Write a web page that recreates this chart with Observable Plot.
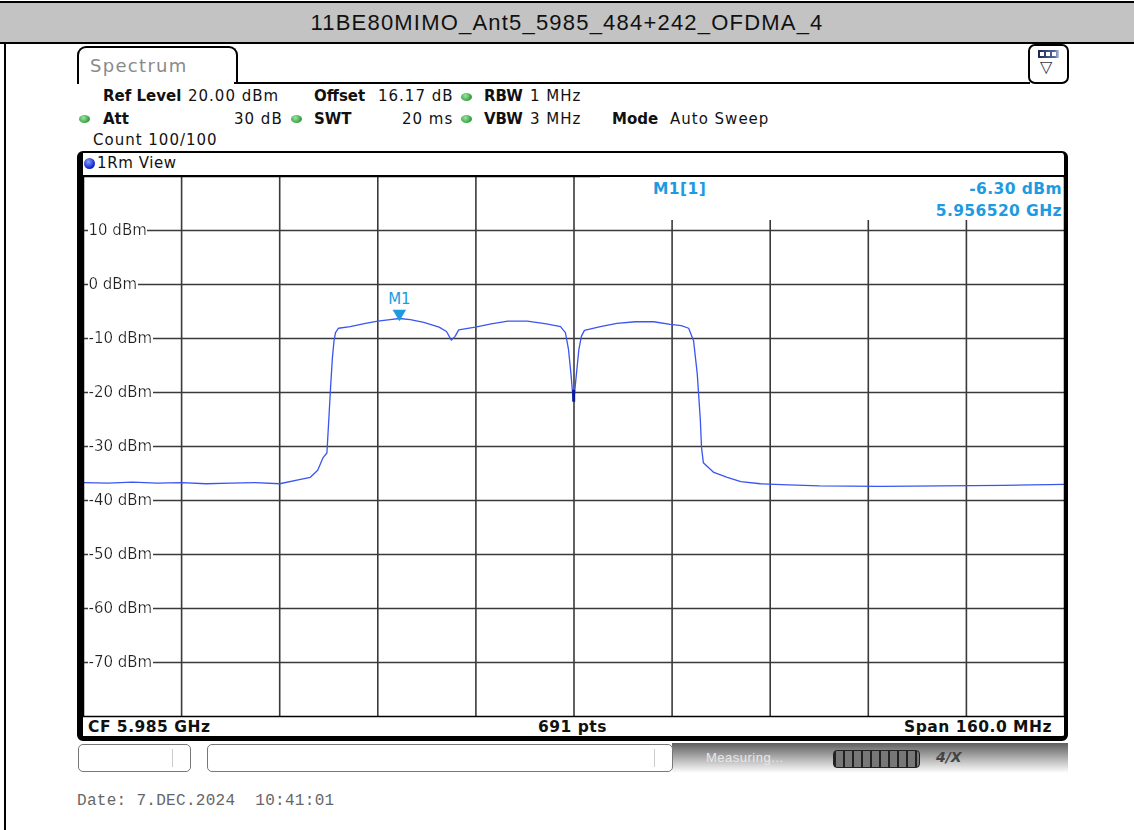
<!DOCTYPE html>
<html><head><meta charset="utf-8">
<script src="https://cdn.jsdelivr.net/npm/d3@7"></script>
<script src="https://cdn.jsdelivr.net/npm/@observablehq/plot@0.6"></script>
<style>
body{margin:0;width:1134px;height:830px;position:relative;background:#fff;overflow:hidden;font-family:"DejaVu Sans",sans-serif;color:#111;}
.a{position:absolute;white-space:nowrap;}
.t{font-size:15px;line-height:16px;letter-spacing:1px;}
.b{font-weight:bold;letter-spacing:0px;}
.g{position:absolute;width:11px;height:8px;border-radius:50%;background:radial-gradient(circle at 40% 35%,#9de59d,#2e9e3e 70%);}
#title{left:0;top:1px;width:1134px;height:39px;background:#c3c3c3;border-top:2px solid #000;border-bottom:2px solid #000;text-align:center;font-family:"Liberation Sans",Arial,sans-serif;font-size:22px;line-height:39px;letter-spacing:1.2px;}
#lborder{left:4px;top:43px;width:2px;height:787px;background:#000;}
#tab{left:77px;top:46px;width:157px;height:36px;border:2px solid #000;border-bottom:none;border-radius:9px 9px 0 0;background:#fff;}
#tabtxt{left:90px;top:56px;font-size:18px;line-height:20px;color:#8a8a8a;letter-spacing:1.3px;}
#tabline{left:234px;top:82px;width:796px;height:2px;background:#000;}
#icon{left:1028px;top:44px;width:37px;height:36px;border:2px solid #000;border-radius:7px;background:#fff;}
#box{left:77px;top:151px;width:981px;height:583px;border-style:solid;border-color:#000;border-width:2px 4px 5px 6px;border-radius:6px;background:#fff;}
#hdrline{left:83px;top:175px;width:981px;height:1px;background:#000;}
#mk{left:600px;top:177px;width:463px;height:43px;background:#fff;color:#1e9be0;font-weight:bold;font-size:15.5px;letter-spacing:0.4px;}
#status{left:672px;top:743px;width:396px;height:30px;background:linear-gradient(#5e5e5e,#b8b8b8 55%,#fff);}
.btn{position:absolute;top:744px;height:26px;border:1px solid #777;border-radius:5px;background:#fff;}
.bs{font-size:15.5px;font-weight:bold;letter-spacing:0.5px;line-height:16px;}
</style></head><body>
<div id="title" class="a">11BE80MIMO_Ant5_5985_484+242_OFDMA_4</div>
<div id="lborder" class="a"></div>
<div id="tab" class="a"></div>
<div id="tabtxt" class="a">Spectrum</div>
<div id="tabline" class="a"></div>
<div id="icon" class="a">
  <div class="a" style="left:8px;top:4px;width:21px;height:8px;background:linear-gradient(90deg,#1c2550,#5a6aa0 80%,#c0c8e0);"></div>
  <div class="a" style="left:10px;top:6px;width:4px;height:4px;background:#fff;"></div>
  <div class="a" style="left:16px;top:6px;width:4px;height:4px;background:#fff;"></div>
  <div class="a" style="left:22px;top:6px;width:4px;height:4px;background:#fff;"></div>
  <div class="a" style="left:10px;top:12px;font-size:16px;line-height:18px;color:#334;">▽</div>
</div>

<div class="a t b" style="left:103px;top:88px;">Ref Level</div>
<div class="a t" style="left:188px;top:88px;">20.00 dBm</div>
<div class="a t b" style="left:314px;top:88px;">Offset</div>
<div class="a t" style="left:378px;top:88px;">16.17 dB</div>
<div class="g" style="left:461px;top:93px;"></div>
<div class="a t b" style="left:484px;top:88px;">RBW</div>
<div class="a t" style="left:530px;top:88px;">1 MHz</div>

<div class="g" style="left:79px;top:115px;"></div>
<div class="a t b" style="left:103px;top:111px;">Att</div>
<div class="a t" style="left:234px;top:111px;">30 dB</div>
<div class="g" style="left:291px;top:115px;"></div>
<div class="a t b" style="left:314px;top:111px;">SWT</div>
<div class="a t" style="left:402px;top:111px;">20 ms</div>
<div class="g" style="left:461px;top:115px;"></div>
<div class="a t b" style="left:484px;top:111px;">VBW</div>
<div class="a t" style="left:530px;top:111px;">3 MHz</div>
<div class="a t b" style="left:612px;top:111px;">Mode</div>
<div class="a t" style="left:670px;top:111px;">Auto Sweep</div>
<div class="a t" style="left:93px;top:132px;">Count 100/100</div>

<div id="box" class="a"></div>
<div id="hdrline" class="a"></div>
<div class="a" style="left:84px;top:158px;width:11px;height:11px;border-radius:50%;background:radial-gradient(circle at 40% 35%,#8aa0ff,#1028d0 65%,#001080);"></div>
<div class="a t" style="left:97px;top:155px;letter-spacing:0.6px;">1Rm View</div>

<div id="chart" class="a" style="left:82px;top:175px;"></div>

<div id="mk" class="a">
  <div class="a" style="left:53px;top:3px;">M1[1]</div>
  <div class="a" style="right:1px;top:3px;">-6.30 dBm</div>
  <div class="a" style="right:1px;top:25px;">5.956520 GHz</div>
</div>

<div class="a bs" style="left:88px;top:719px;">CF 5.985 GHz</div>
<div class="a bs" style="left:538px;top:719px;">691 pts</div>
<div class="a bs" style="right:82px;top:719px;">Span 160.0 MHz</div>

<div id="status" class="a"></div>
<div class="btn" style="left:78px;width:111px;"><div class="a" style="left:93px;top:4px;width:1px;height:18px;background:#ccc;"></div></div>
<div class="btn" style="left:207px;width:464px;"><div class="a" style="left:446px;top:4px;width:1px;height:18px;background:#ccc;"></div></div>
<div class="a" style="left:706px;top:750px;font-size:13px;color:#e8e8e8;font-family:'Liberation Sans',sans-serif;letter-spacing:0.5px;">Measuring...</div>
<div class="a" style="left:833px;top:750px;width:85px;height:16px;border-radius:4px;background:repeating-linear-gradient(90deg,#222 0 2px,#777 2px 9px);border:1px solid #222;"></div>
<div class="a" style="left:936px;top:749px;font-size:14px;font-weight:bold;font-style:italic;color:#444;">4/X</div>

<div class="a" style="left:77px;top:792px;font-family:'Liberation Mono',monospace;font-size:16px;line-height:18px;color:#666;letter-spacing:0.3px;">Date: 7.DEC.2024&nbsp;&nbsp;10:41:01</div>

<script>
// Trace: frequency (GHz) and level (dBm)
const freqGHz = [
 5.905,5.909,5.913,5.917,5.921,5.925,5.929,5.933,5.937,5.9404,5.942,5.9432,5.9441,5.9447,
 5.945,5.9453,5.9456,5.94585,5.9461,5.9466,5.9485,5.951,5.953,5.955,5.95652,5.9583,5.9605,5.963,
 5.9642,5.965,5.9656,5.9662,5.9689,5.9715,5.9742,5.9774,5.9805,5.9828,5.9836,5.9841,5.9845,5.9848,
 5.98495,5.9851,5.9854,5.9858,5.9862,5.9867,5.9893,5.992,5.995,5.998,6.0007,6.0025,6.0037,6.0045,
 6.0051,6.0056,6.0058,6.0061,6.0078,6.010,6.0122,6.0154,6.020,6.025,6.035,6.045,6.055,6.065
];
const levelDbm = [
 -36.7,-36.8,-36.6,-36.8,-36.7,-36.9,-36.8,-36.7,-36.9,-36.1,-35.7,-34.4,-32.0,-31.2,
 -25.2,-19.0,-13.5,-10.5,-8.9,-8.1,-7.8,-7.2,-6.8,-6.5,-6.3,-6.5,-7.0,-7.9,
 -8.7,-10.3,-9.6,-8.4,-7.9,-7.3,-6.8,-6.8,-7.3,-7.8,-8.9,-12.0,-16.5,-20.5,
 -21.6,-20.0,-16.5,-12.0,-9.6,-8.5,-7.8,-7.2,-6.9,-6.9,-7.4,-7.6,-8.1,-10.4,
 -16.5,-25.0,-30.2,-33.0,-34.8,-35.7,-36.5,-36.9,-37.1,-37.3,-37.4,-37.3,-37.2,-37.0
];
const xGridGHz = [5.921,5.937,5.953,5.969,5.985,6.001,6.017,6.033,6.049];
const yGridDbm = [10,0,-10,-20,-30,-40,-50,-60,-70];
const yTickLabels = ["10 dBm","0 dBm","-10 dBm","-20 dBm","-30 dBm","-40 dBm","-50 dBm","-60 dBm","-70 dBm"];
const markerName = ["M1"];
const markerFreqGHz = [5.956520];
const markerLevelDbm = [-6.30];
const dipFreqGHz = [5.98495];
const dipTopDbm = [-19.6];
const dipBottomDbm = [-21.8];

const trace = freqGHz.map((f,i)=>({f, level: levelDbm[i]}));
const yLabels = yGridDbm.map((v,i)=>({v, label: yTickLabels[i], f: freqGHz[0]}));
const markers = markerName.map((n,i)=>({n, f: markerFreqGHz[i], level: markerLevelDbm[i]}));
const dips = dipFreqGHz.map((f,i)=>({f, y1: dipTopDbm[i], y2: dipBottomDbm[i]}));

const chart = Plot.plot({
  width: 983, height: 542,
  marginLeft: 1, marginRight: 1, marginTop: 1, marginBottom: 1,
  style: {background: "transparent", overflow: "visible"},
  x: {domain: [5.905, 6.065], axis: null},
  y: {domain: [-80, 20], axis: null},
  marks: [
    Plot.ruleX(xGridGHz, {x: d=>d, stroke: "#3a3a3a", strokeWidth: 1.6}),
    Plot.ruleY(yGridDbm, {y: d=>d, stroke: "#3a3a3a", strokeWidth: 1.6}),
    Plot.text(yLabels, {x: "f", y: "v", text: "label", textAnchor: "start", dx: 5,
      fill: "#222", fontSize: 15, fontFamily: "DejaVu Sans"}),
    Plot.line(trace, {x: "f", y: "level", stroke: "#3a55f0", strokeWidth: 1.3}),
    Plot.ruleX(dips, {x: "f", y1: "y1", y2: "y2", stroke: "#0a1a9a", strokeWidth: 3}),
    Plot.dot(markers, {x: "f", y: "level", symbol: "triangle", rotate: 180, r: 5, fill: "#1e9be0", dy: -5}),
    Plot.text(markers, {x: "f", y: "level", text: "n", dy: -19, fill: "#1e9be0", fontSize: 15, fontFamily: "DejaVu Sans"}),
    Plot.frame({stroke: "#000", strokeWidth: 1.5})
  ]
});
// white background box behind the level labels (as on the instrument screen)
const svg = d3.select(chart);
const defs = svg.insert("defs", ":first-child");
const flt = defs.append("filter").attr("id", "lblbg")
  .attr("x", "0").attr("y", "0").attr("width", "1").attr("height", "1");
flt.append("feFlood").attr("flood-color", "white").attr("result", "bg");
flt.append("feComposite").attr("in", "SourceGraphic").attr("in2", "bg").attr("operator", "over");
svg.selectAll("text").filter(function(){ return /dBm$/.test(this.textContent); })
  .attr("filter", "url(#lblbg)");
document.getElementById("chart").appendChild(chart);
</script>
</body></html>
